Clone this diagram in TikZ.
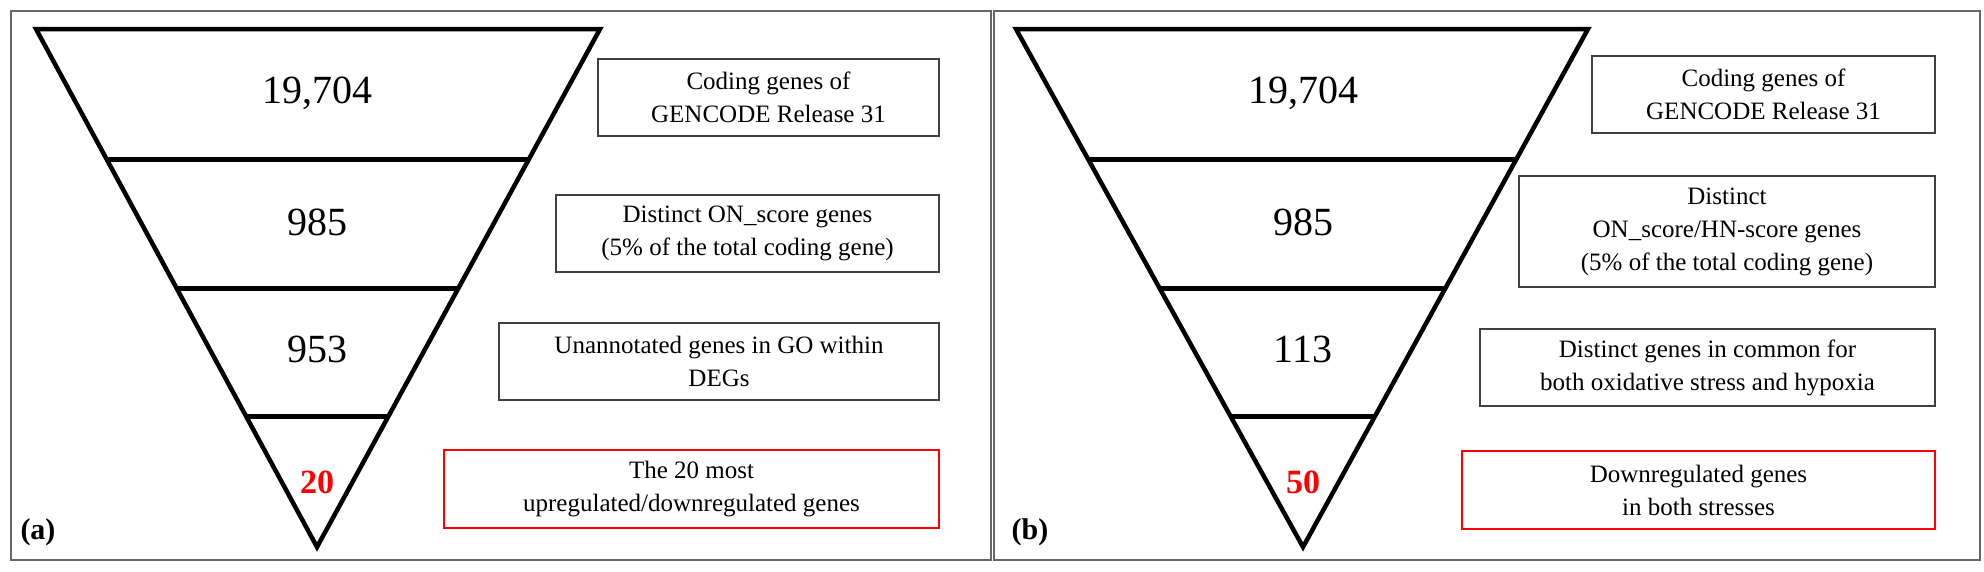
\documentclass[tikz,border=0pt]{standalone}
\usepackage{fontspec}
\setmainfont{Liberation Serif}
\usetikzlibrary{calc}
\begin{document}
\begin{tikzpicture}[x=1pt,y=-1pt,
  frame/.style={draw=black!60,line width=1.5pt},
  tri/.style={draw=black,line width=4.5pt,line join=miter},
  div/.style={draw=black,line width=5pt},
  num/.style={font=\fontsize{40}{44}\selectfont},
  rnum/.style={font=\fontsize{34}{38}\selectfont\bfseries,text=red},
  box/.style={draw=black!75,line width=1.2pt,align=center,font=\fontsize{25}{33}\selectfont,inner sep=0pt},
  rbox/.style={box,draw=red},
  lab/.style={font=\fontsize{30}{34}\selectfont\bfseries}]
\useasboundingbox (0,0) rectangle (1984,571);
% frames
\draw[frame] (11,11) rectangle (991,560);
\draw[frame] (994,11) rectangle (1980,560);
% panel a
\coordinate (aL) at (36,29); \coordinate (aR) at (600,29); \coordinate (aA) at (317,547);
\draw[tri] (aL) -- (aR) -- (aA) -- cycle;
\foreach \y in {159,288,416}{
  \draw[div] ($(aL)!{(\y-29)/518}!(aA)$) -- ($(aR)!{(\y-29)/518}!(aA)$);}
\node[num] (an1) at (317,93) {19,704};
\node[num] (an2) at (317,222) {985};
\node[num] (an3) at (317,349) {953};
\node[rnum] (an4) at (317,482) {20};
\node[box,minimum width=341pt,minimum height=77pt] (ab1) at (768.5,97.5) {Coding genes of\\GENCODE Release 31};
\node[box,minimum width=383pt,minimum height=77pt] (ab2) at (747.5,233.5) {Distinct ON\_score genes\\(5\% of the total coding gene)};
\node[box,minimum width=440pt,minimum height=77pt] (ab3) at (719,361.5) {Unannotated genes in GO within\\DEGs};
\node[rbox,minimum width=495pt,minimum height=78pt] (ab4) at (691.5,489) {The 20 most\\upregulated/downregulated genes};
\node[lab] (la) at (38,532) {(a)};
% panel b
\coordinate (bL) at (1016,29); \coordinate (bR) at (1588,29); \coordinate (bA) at (1303,547);
\draw[tri] (bL) -- (bR) -- (bA) -- cycle;
\foreach \y in {159,288,416}{
  \draw[div] ($(bL)!{(\y-29)/518}!(bA)$) -- ($(bR)!{(\y-29)/518}!(bA)$);}
\node[num] (bn1) at (1303,93) {19,704};
\node[num] (bn2) at (1303,222) {985};
\node[num] (bn3) at (1303,349) {113};
\node[rnum] (bn4) at (1303,482) {50};
\node[box,minimum width=343pt,minimum height=77pt] (bb1) at (1763.5,94.5) {Coding genes of\\GENCODE Release 31};
\node[box,minimum width=416pt,minimum height=111pt] (bb2) at (1727,231.5) {Distinct\\ON\_score/HN-score genes\\(5\% of the total coding gene)};
\node[box,minimum width=455pt,minimum height=77pt] (bb3) at (1707.5,367.5) {Distinct genes in common for\\both oxidative stress and hypoxia};
\node[rbox,minimum width=473pt,minimum height=78pt] (bb4) at (1698.5,490) {Downregulated genes\\in both stresses};
\node[lab] (lb) at (1030,532) {(b)};
\end{tikzpicture}
\end{document}
